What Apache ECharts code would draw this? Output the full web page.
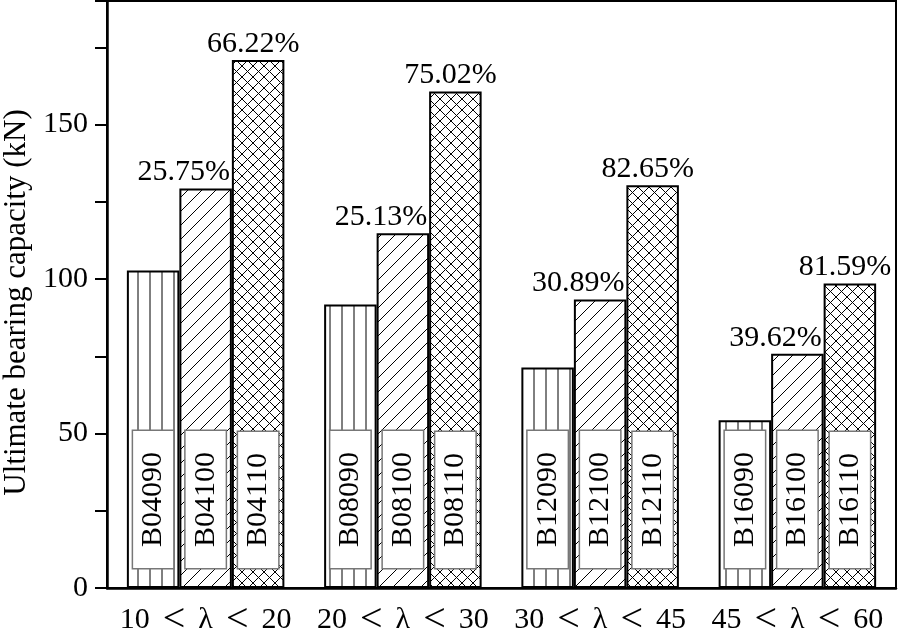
<!DOCTYPE html>
<html>
<head>
<meta charset="utf-8">
<script src="https://cdn.jsdelivr.net/npm/echarts@6/dist/echarts.min.js"></script>
<style>
  html, body { margin: 0; padding: 0; background: #fff; }
  #chart { width: 898px; height: 637px; }
</style>
</head>
<body>
<div id="chart"></div>
<script>
// data
const categories = ['10 < λ < 20', '20 < λ < 30', '30 < λ < 45', '45 < λ < 60']
const names090 = ['B04090', 'B08090', 'B12090', 'B16090']
const names100 = ['B04100', 'B08100', 'B12100', 'B16100']
const names110 = ['B04110', 'B08110', 'B12110', 'B16110']
const values090 = [102.8, 91.8, 71.4, 54.3]
const values100 = [129.3, 114.8, 93.4, 75.8]
const values110 = [170.9, 160.7, 130.4, 98.6]
const gain100 = ['25.75%', '25.13%', '30.89%', '39.62%']
const gain110 = ['66.22%', '75.02%', '82.65%', '81.59%']

const FONT = '"Liberation Serif", "Times New Roman", serif'

// hatch fills
function makePattern(kind) {
  const c = document.createElement('canvas')
  const s = kind === 'cross' ? 11 : (kind === 'vert' ? 12 : 14)
  c.width = s
  c.height = s
  const g = c.getContext('2d')
  g.fillStyle = '#fff'
  g.fillRect(0, 0, s, s)
  g.strokeStyle = '#000'
  g.lineWidth = 1
  g.beginPath()
  if (kind === 'vert') {
    g.moveTo(s / 2, 0)
    g.lineTo(s / 2, s)
  } else {
    g.moveTo(-1, s + 1); g.lineTo(s + 1, -1)
    g.moveTo(-1, 1); g.lineTo(1, -1)
    g.moveTo(s - 1, s + 1); g.lineTo(s + 1, s - 1)
    if (kind === 'cross') {
      g.moveTo(-1, -1); g.lineTo(s + 1, s + 1)
      g.moveTo(s - 1, -1); g.lineTo(s + 1, 1)
      g.moveTo(-1, s - 1); g.lineTo(1, s + 1)
    }
  }
  g.stroke()
  return { image: c, repeat: 'repeat' }
}

function innerLabel(names) {
  return {
    show: true,
    position: 'insideBottom',
    distance: 20,
    rotate: 90,
    align: 'left',
    verticalAlign: 'middle',
    fontFamily: FONT,
    fontSize: 30,
    color: '#000',
    backgroundColor: '#fff',
    borderColor: '#777',
    borderWidth: 1.5,
    padding: [5, 21, 5, 21],
    formatter: p => names[p.dataIndex]
  }
}

function topLabel(texts, dx) {
  return {
    show: true,
    position: 'top',
    distance: 1,
    offset: [dx, 0],
    fontFamily: FONT,
    fontSize: 30,
    color: '#000',
    formatter: p => texts[p.dataIndex]
  }
}

function barSeries(values, pattern, names) {
  return {
    type: 'bar',
    data: values,
    barWidth: 52.5,
    barGap: '0%',
    itemStyle: { color: makePattern(pattern), borderColor: '#000', borderWidth: 2 },
    label: innerLabel(names)
  }
}

// invisible twins on a hidden axis, only to carry the percentage labels
function ghostSeries(values, label) {
  return {
    type: 'bar',
    xAxisIndex: 1,
    data: values,
    barWidth: 52.5,
    barGap: '0%',
    silent: true,
    itemStyle: { color: 'rgba(0,0,0,0)', borderWidth: 0 },
    label: label || { show: false },
    z: 3
  }
}

// "10 < λ < 20" -> bigger "<" glyphs, fixed gaps
function catLabel(v) {
  return v.split(' ').map(t => (t === '<' ? '{lt|<}' : t)).join('{sp|\u2004}')
}

const chart = echarts.init(document.getElementById('chart'))

const option = {
  animation: false,
  grid: {
    left: 107, right: 2, top: 1, bottom: 49,
    outerBoundsMode: 'none',
    containLabel: false,
    show: true, borderColor: '#000', borderWidth: 2
  },
  xAxis: [
    {
      type: 'category',
      data: categories,
      axisLine: { lineStyle: { color: '#000', width: 2.5 } },
      axisTick: { show: false },
      axisLabel: {
        interval: 0,
        fontFamily: FONT, fontSize: 30, color: '#000', margin: 12,
        formatter: catLabel,
        rich: {
          lt: { fontFamily: FONT, fontSize: 40, color: '#000' },
          sp: { fontFamily: FONT, fontSize: 30, width: 13 }
        }
      }
    },
    {
      type: 'category',
      data: categories,
      position: 'bottom',
      show: false
    }
  ],
  yAxis: {
    type: 'value',
    min: 0,
    max: 190,
    interval: 25,
    name: 'Ultimate bearing capacity (kN)',
    nameLocation: 'middle',
    nameGap: 75,
    nameTextStyle: { fontFamily: FONT, fontSize: 31, color: '#000', padding: [0, 16, 0, 0] },
    splitLine: { show: false },
    axisLine: { show: true, lineStyle: { color: '#000', width: 2.5 } },
    axisTick: { show: true, length: 12, lineStyle: { color: '#000', width: 2 } },
    axisLabel: {
      fontFamily: FONT, fontSize: 30, color: '#000', margin: 19,
      formatter: v => (v % 50 === 0 ? String(v) : '')
    }
  },
  series: [
    barSeries(values090, 'vert', names090),
    barSeries(values100, 'diag', names100),
    barSeries(values110, 'cross', names110),
    ghostSeries(values090),
    ghostSeries(values100, topLabel(gain100, -22)),
    ghostSeries(values110, topLabel(gain110, -5))
  ]
}

chart.setOption(option)
</script>
</body>
</html>
